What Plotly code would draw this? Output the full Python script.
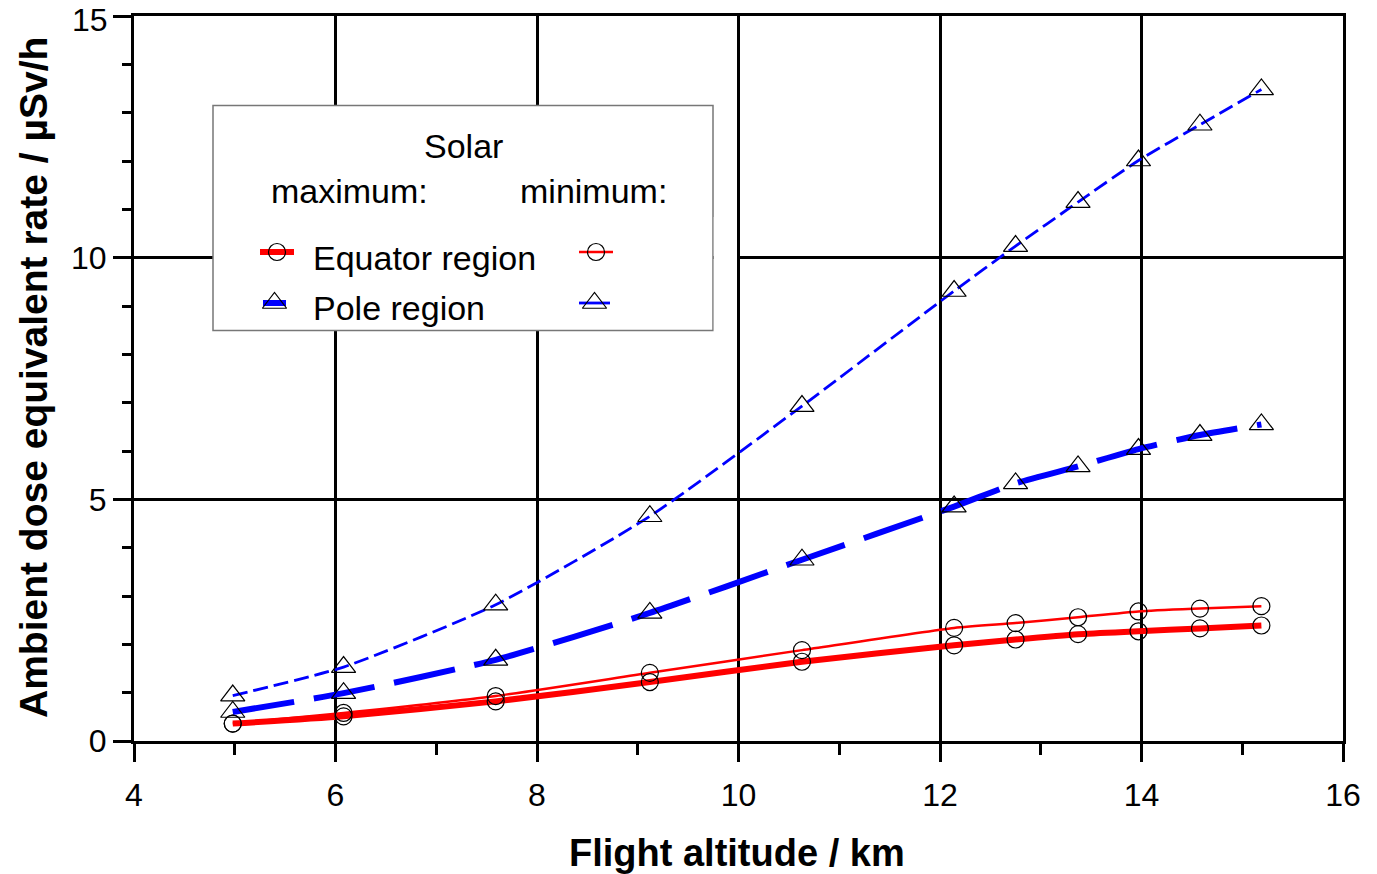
import plotly.graph_objects as go

# Flight altitudes (km) of the computed route points
altitude_km = [4.98, 6.08, 7.59, 9.12, 10.63, 12.14, 12.75, 13.37, 13.97, 14.58, 15.19]

# Ambient dose equivalent rate (µSv/h)
equator_solar_max = [0.36, 0.51, 0.82, 1.22, 1.64, 1.98, 2.10, 2.21, 2.27, 2.33, 2.39]
equator_solar_min = [0.36, 0.58, 0.93, 1.41, 1.88, 2.34, 2.44, 2.56, 2.68, 2.74, 2.79]
pole_solar_max = [0.60, 0.99, 1.68, 2.65, 3.75, 4.85, 5.33, 5.68, 6.04, 6.33, 6.55]
pole_solar_min = [0.94, 1.53, 2.82, 4.65, 6.93, 9.31, 10.24, 11.15, 12.01, 12.75, 13.48]

x_ticks = [4, 6, 8, 10, 12, 14, 16]
y_ticks = [0, 5, 10, 15]
X_RANGE = [4, 16]
Y_RANGE = [0, 15]

FONT = "Arial, Liberation Sans, Helvetica, sans-serif"
RED = "#ff0000"
BLUE = "#0000ff"

W, H = 1377, 874
ML, MR, MT, MB = 134, 34, 16, 133
PX_LEFT, PX_RIGHT = ML, W - MR
PX_TOP, PX_BOTTOM = MT, H - MB


def px_paper_x(px):
    return (px - PX_LEFT) / (PX_RIGHT - PX_LEFT)


def px_paper_y(py):
    return (PX_BOTTOM - py) / (PX_BOTTOM - PX_TOP)


def px_data_x(px):
    return X_RANGE[0] + px_paper_x(px) * (X_RANGE[1] - X_RANGE[0])


def px_data_y(py):
    return Y_RANGE[0] + px_paper_y(py) * (Y_RANGE[1] - Y_RANGE[0])


fig = go.Figure()

series = [
    (equator_solar_max, RED, 6, "solid", "circle-open", 17),
    (equator_solar_min, RED, 2.5, "solid", "circle-open", 17),
    (pole_solar_max, BLUE, 6, "62px,20px", "triangle-up-open", 21),
    (pole_solar_min, BLUE, 2.8, "15px,6px", "triangle-up-open", 21),
]

# Curves first
for ys, color, width, dash, _, _ in series:
    fig.add_trace(go.Scatter(
        x=altitude_km, y=ys, mode="lines",
        line=dict(color=color, width=width, dash=dash, shape="spline", smoothing=0.6),
        showlegend=False, hoverinfo="skip",
    ))

# Open symbols on top
for ys, _, _, _, symbol, size in series:
    fig.add_trace(go.Scatter(
        x=altitude_km, y=ys, mode="markers",
        marker=dict(symbol=symbol, size=size, color="black", line=dict(color="black", width=1.2)),
        showlegend=False, hoverinfo="skip",
    ))

# ---- Legend panel ----
box_l, box_t, box_r, box_b = 213, 105.5, 713, 330.5
fig.add_shape(type="rect", xref="x", yref="y",
              x0=px_data_x(box_l), x1=px_data_x(box_r),
              y0=px_data_y(box_t), y1=px_data_y(box_b),
              line=dict(color="#777777", width=1.5), fillcolor="white", layer="between")
fig.add_shape(type="rect", xref="x", yref="y",
              x0=px_data_x(box_r + 0.75), x1=px_data_x(737),
              y0=px_data_y(217), y1=px_data_y(337),
              line=dict(width=0), fillcolor="white", layer="between")

legend_rows = [
    # (y, color, max width, min width, symbol, size, max x-span, min x-span)
    (252, RED, 6, 2.5, "circle-open", 17, (260, 294), (579, 613)),
    (303, BLUE, 6, 2.8, "triangle-up-open", 21, (263, 286), (579, 610)),
]
for y, color, wmax, wmin, symbol, size, span_max, span_min in legend_rows:
    for span, w in ((span_max, wmax), (span_min, wmin)):
        fig.add_trace(go.Scatter(
            x=[px_data_x(span[0]), px_data_x(span[1])], y=[px_data_y(y)] * 2, mode="lines",
            line=dict(color=color, width=w), showlegend=False, hoverinfo="skip"))
        fig.add_trace(go.Scatter(
            x=[px_data_x((span[0] + span[1]) / 2)], y=[px_data_y(y)], mode="markers",
            marker=dict(symbol=symbol, size=size, color="black", line=dict(color="black", width=1.2)),
            showlegend=False, hoverinfo="skip"))

legend_texts = [
    ("Solar", 463, 146, "center"),
    ("maximum:", 349, 191, "center"),
    ("minimum:", 593, 191, "center"),
    ("Equator region", 311, 258, "left"),
    ("Pole region", 311, 308, "left"),
]
for text, x, y, anchor in legend_texts:
    fig.add_annotation(text=text, xref="paper", yref="paper",
                       x=px_paper_x(x), y=px_paper_y(y),
                       xanchor=anchor, yanchor="middle", showarrow=False,
                       font=dict(family=FONT, size=34, color="black"))

# ---- Axis titles ----
fig.add_annotation(text="<b>Flight altitude / km</b>", xref="paper", yref="paper",
                   x=px_paper_x(737), y=px_paper_y(853), xanchor="center", yanchor="middle",
                   showarrow=False, font=dict(family=FONT, size=38, color="black"))
fig.add_annotation(text="<b>Ambient dose equivalent rate / µSv/h</b>", xref="paper", yref="paper",
                   x=px_paper_x(33), y=px_paper_y(378), xanchor="center", yanchor="middle",
                   textangle=-90, showarrow=False, font=dict(family=FONT, size=39, color="black"))

# Top y tick label sits against the figure edge, so it is placed as a top-anchored text
y_ticktext = [str(v) for v in y_ticks]
top_label = y_ticktext[-1]
y_ticktext[-1] = ""
fig.add_annotation(text=top_label, xref="paper", yref="paper",
                   x=px_paper_x(109), y=1.0 + (PX_TOP - 1) / (PX_BOTTOM - PX_TOP),
                   xanchor="right", yanchor="top", showarrow=False, borderpad=0,
                   font=dict(family=FONT, size=32, color="black"))

axis_common = dict(
    showline=True, linecolor="black", linewidth=3, mirror=True,
    showgrid=True, gridcolor="black", gridwidth=2.6,
    ticks="outside", tickcolor="black", tickwidth=2.6, ticklen=18,
    tickfont=dict(family=FONT, size=32, color="black"),
    ticklabeloverflow="allow", automargin=False,
    zeroline=False,
)

fig.update_layout(
    width=W, height=H,
    margin=dict(l=ML, r=MR, t=MT, b=MB, autoexpand=False),
    paper_bgcolor="white", plot_bgcolor="white",
    showlegend=False,
    xaxis=dict(range=X_RANGE, tickvals=x_ticks, ticktext=[str(v) for v in x_ticks],
               minor=dict(ticks="outside", dtick=1, tick0=4, ticklen=11, tickwidth=2.6,
                          tickcolor="black", showgrid=False),
               ticklabelstandoff=6, **axis_common),
    yaxis=dict(range=Y_RANGE, tickvals=y_ticks, ticktext=y_ticktext,
               minor=dict(ticks="outside", dtick=1, tick0=0, ticklen=9, tickwidth=2.6,
                          tickcolor="black", showgrid=False),
               ticklabelstandoff=0, **axis_common),
)

fig.write_html("out.html")
